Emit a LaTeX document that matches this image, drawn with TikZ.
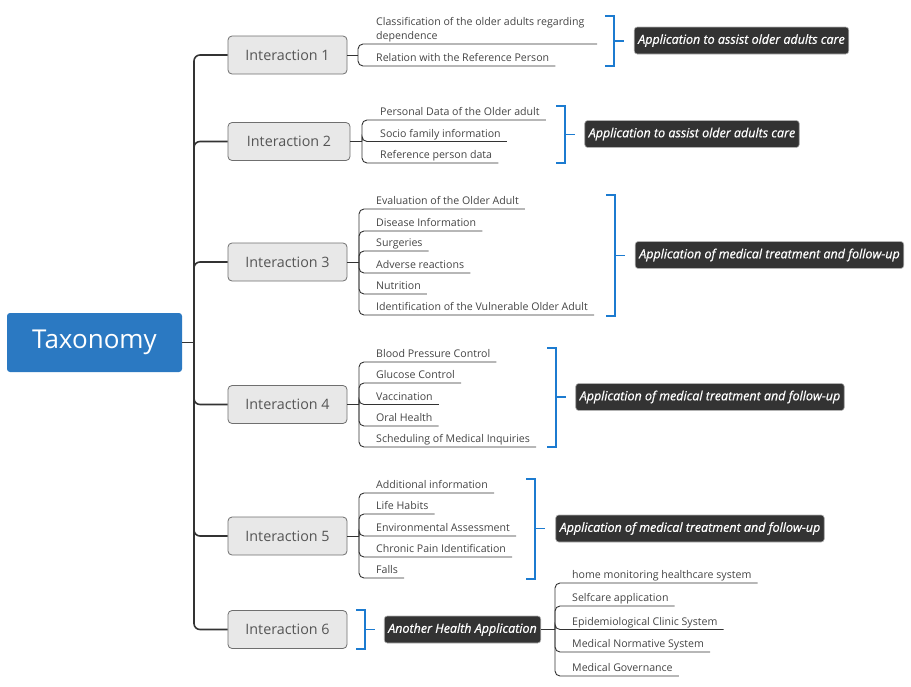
\documentclass[tikz,border=0pt]{standalone}
\usepackage{fontspec}
\setmainfont{Open Sans}
\newfontfamily\appfont{Open Sans}[FakeBold=0.6]
\usetikzlibrary{calc}
\definecolor{taxblue}{HTML}{2B79C2}
\definecolor{brblue}{HTML}{1C7BD0}
\definecolor{darkbox}{HTML}{333333}
\definecolor{boxfill}{HTML}{E8E8E8}
\definecolor{boxborder}{HTML}{6F6F6F}
\definecolor{linecol}{HTML}{333333}
\definecolor{leaftext}{HTML}{444444}
\definecolor{intertext}{HTML}{555555}
\begin{document}
\begin{tikzpicture}[x=1pt,y=-1pt,
  root/.style={fill=taxblue, rounded corners=3pt, minimum width=175pt, minimum height=59pt, text=white, font=\fontsize{26}{30}\selectfont},
  inter/.style={draw=boxborder, fill=boxfill, rounded corners=4pt, minimum width=119pt, minimum height=38pt, line width=0.8pt, text=intertext, font=\fontsize{14.3}{16}\selectfont},
  leaf/.style={anchor=south west, inner xsep=0pt, inner ysep=1.5pt, text depth=2.6pt, text=leaftext, font=\fontsize{10.6}{14}\selectfont},
  app/.style={fill=darkbox, draw=gray!60, line width=0.6pt, rounded corners=3pt, minimum height=27pt, inner xsep=4pt, text=white, font=\appfont\fontsize{12.5}{15}\selectfont\itshape},
  trunk/.style={draw=linecol, line width=1.6pt, rounded corners=6pt},
  branch/.style={draw=linecol, line width=0.9pt, rounded corners=5pt},
  bracket/.style={draw=brblue, line width=1.5pt}
]
\useasboundingbox (0,0) rectangle (911,686);

% root and interactions
\node[root] (tax) at (94.5,342.5) {Taxonomy};
\node[inter] (i1) at (287.5,55) {Interaction 1};
\node[inter, minimum width=122pt] (i2) at (289,141.5) {Interaction 2};
\node[inter] (i3) at (287.5,262) {Interaction 3};
\node[inter] (i4) at (287.5,404.5) {Interaction 4};
\node[inter] (i5) at (287.5,536) {Interaction 5};
\node[inter] (i6) at (287.5,629.5) {Interaction 6};

\coordinate (t0) at (194,342.5);
\draw[trunk] (tax.east) -- (t0);
\foreach \n in {i1,i2,i3,i4,i5,i6} \draw[trunk] (t0) |- (\n.west);

% app boxes
\node[app] (a1) at (741.5,40.5) {Application to assist older adults care};
\node[app] (a2) at (692,134) {Application to assist older adults care};
\node[app] (a3) at (769.5,255) {Application of medical treatment and follow-up};
\node[app] (a4) at (710,397) {Application of medical treatment and follow-up};
\node[app] (a5) at (690,528.5) {Application of medical treatment and follow-up};
\node[app] (a6) at (462.5,629.5) {Another Health Application};

% brackets
\draw[bracket] (605,16) -- (614,16) -- (614,66) -- (605,66);
\draw[bracket] (614,41) -- (624,41);
\draw[bracket] (556,106) -- (565,106) -- (565,163) -- (556,163);
\draw[bracket] (565,134.5) -- (575,134.5);
\draw[bracket] (606,195) -- (615,195) -- (615,316) -- (606,316);
\draw[bracket] (615,255.5) -- (625,255.5);
\draw[bracket] (547,348) -- (556,348) -- (556,447) -- (547,447);
\draw[bracket] (556,397) -- (566,397);
\draw[bracket] (526,479) -- (535,479) -- (535,579) -- (526,579);
\draw[bracket] (535,528.5) -- (545,528.5);
\draw[bracket] (356,610) -- (365,610) -- (365,649) -- (356,649);
\draw[bracket] (365,629.5) -- (375,629.5);

% Interaction 1 leaves
\coordinate (j1) at (358,55);
\node[leaf, align=left] (l11) at (376,44) {Classification of the older adults regarding\\dependence};
\node[leaf] (l12) at (376,66) {Relation with the Reference Person};
\draw[branch] (i1.east) -- (j1);
\draw[branch] (j1) |- (l11.south west) -- (597,44);
\draw[branch] (j1) |- (l12.south west) -- ($(l12.south east)+(6,0)$);

% Interaction 2 leaves
\coordinate (j2) at (362,141.5);
\node[leaf] (l21) at (380,120) {Personal Data of the Older adult};
\node[leaf] (l22) at (380,141.5) {Socio family information};
\node[leaf] (l23) at (380,163) {Reference person data};
\draw[branch] (i2.east) -- (j2);
\foreach \n in {l21,l22,l23} \draw[branch] (j2) |- (\n.south west) -- ($(\n.south east)+(6,0)$);

% Interaction 3 leaves
\coordinate (j3) at (359,262);
\node[leaf] (l31) at (376,209) {Evaluation of the Older Adult};
\node[leaf] (l32) at (376,231) {Disease Information};
\node[leaf] (l33) at (376,251) {Surgeries};
\node[leaf] (l34) at (376,273) {Adverse reactions};
\node[leaf] (l35) at (376,294) {Nutrition};
\node[leaf] (l36) at (376,315) {Identification of the Vulnerable Older Adult};
\draw[branch] (i3.east) -- (j3);
\foreach \n in {l31,l32,l33,l34,l35,l36} \draw[branch] (j3) |- (\n.south west) -- ($(\n.south east)+(6,0)$);

% Interaction 4 leaves
\coordinate (j4) at (359,404.5);
\node[leaf] (l41) at (376,362) {Blood Pressure Control};
\node[leaf] (l42) at (376,383) {Glucose Control};
\node[leaf] (l43) at (376,404.5) {Vaccination};
\node[leaf] (l44) at (376,426) {Oral Health};
\node[leaf] (l45) at (376,447) {Scheduling of Medical Inquiries};
\draw[branch] (i4.east) -- (j4);
\foreach \n in {l41,l42,l43,l44,l45} \draw[branch] (j4) |- (\n.south west) -- ($(\n.south east)+(6,0)$);

% Interaction 5 leaves
\coordinate (j5) at (359,536);
\node[leaf] (l51) at (376,493) {Additional information};
\node[leaf] (l52) at (376,514) {Life Habits};
\node[leaf] (l53) at (376,536) {Environmental Assessment};
\node[leaf] (l54) at (376,557) {Chronic Pain Identification};
\node[leaf] (l55) at (376,578) {Falls};
\draw[branch] (i5.east) -- (j5);
\foreach \n in {l51,l52,l53,l54,l55} \draw[branch] (j5) |- (\n.south west) -- ($(\n.south east)+(6,0)$);

% Interaction 6 application leaves
\coordinate (j6) at (555,629.5);
\node[leaf] (l61) at (572,583) {home monitoring healthcare system};
\node[leaf] (l62) at (572,606) {Selfcare application};
\node[leaf] (l63) at (572,629.5) {Epidemiological Clinic System};
\node[leaf] (l64) at (572,652) {Medical Normative System};
\node[leaf] (l65) at (572,676) {Medical Governance};
\draw[branch] (a6.east) -- (j6);
\foreach \n in {l61,l62,l63,l64,l65} \draw[branch] (j6) |- (\n.south west) -- ($(\n.south east)+(6,0)$);
\end{tikzpicture}
\end{document}
